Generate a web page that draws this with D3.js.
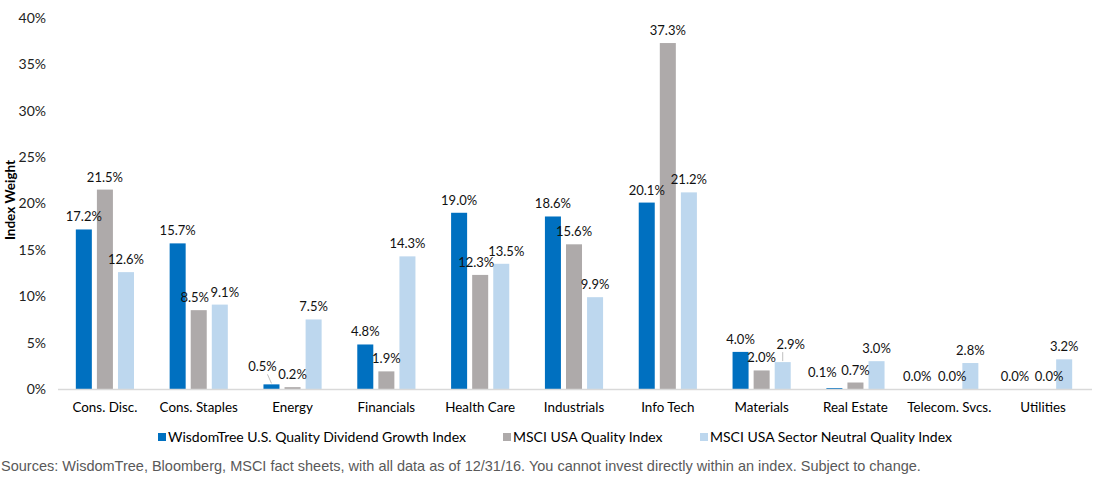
<!DOCTYPE html>
<html>
<head>
<meta charset="utf-8">
<script src="https://cdn.jsdelivr.net/npm/d3@7"></script>
<style>
  body { margin: 0; background: #fff; }
  svg { display: block; font-family: Lato, "Open Sans", sans-serif; }
</style>
</head>
<body>
<div id="chart"></div>
<script>
// sector weights (%)
const categories = ["Cons. Disc.", "Cons. Staples", "Energy", "Financials", "Health Care",
    "Industrials", "Info Tech", "Materials", "Real Estate", "Telecom. Svcs.", "Utilities"];
const wisdomTree = [17.2, 15.7, 0.5, 4.8, 19.0, 18.6, 20.1, 4.0, 0.1, 0.0, 0.0];
const msciQuality = [21.5, 8.5, 0.2, 1.9, 12.3, 15.6, 37.3, 2.0, 0.7, 0.0, 0.0];
const msciSectorNeutral = [12.6, 9.1, 7.5, 14.3, 13.5, 9.9, 21.2, 2.9, 3.0, 2.8, 3.2];
const seriesNames = ["WisdomTree U.S. Quality Dividend Growth Index", "MSCI USA Quality Index",
    "MSCI USA Sector Neutral Quality Index"];
const yTicks = [0, 5, 10, 15, 20, 25, 30, 35, 40];

const colors = ["#0070c0", "#aeaaaa", "#bdd7ee"];
const allSeries = [wisdomTree, msciQuality, msciSectorNeutral];

const width = 1104, height = 479;
const margin = { top: 18, right: 14, bottom: 90, left: 58 };
const innerW = width - margin.left - margin.right;
const innerH = height - margin.top - margin.bottom;

const svg = d3.select("#chart").append("svg")
    .attr("width", width)
    .attr("height", height);

const g = svg.append("g")
    .attr("transform", `translate(${margin.left},${margin.top})`);

const x = d3.scaleBand()
    .domain(categories)
    .range([0, innerW])
    .paddingInner(0.38)
    .paddingOuter(0.19);

const xs = d3.scaleBand()
    .domain([0, 1, 2])
    .range([0, x.bandwidth()])
    .paddingInner(0.24);

const y = d3.scaleLinear()
    .domain([0, 40])
    .range([innerH, 0]);

// y axis labels only (no line)
const yAxis = g.append("g")
    .call(d3.axisLeft(y).tickValues(yTicks).tickSize(0).tickPadding(12).tickFormat(d => d + "%"));
yAxis.select(".domain").remove();
yAxis.selectAll("text")
    .attr("font-family", "Lato, 'Open Sans', sans-serif")
    .attr("font-size", 14)
    .attr("fill", "#222");

// y axis title
g.append("text")
    .attr("transform", "rotate(-90)")
    .attr("x", -182)
    .attr("y", -43)
    .attr("text-anchor", "middle")
    .attr("font-weight", "bold")
    .attr("font-size", 13.5)
    .attr("fill", "#000")
    .text("Index Weight");

// bars
const groups = g.selectAll(".cat")
    .data(categories)
    .enter().append("g")
    .attr("class", "cat")
    .attr("transform", d => `translate(${x(d)},0)`);

allSeries.forEach((vals, si) => {
    groups.append("rect")
        .attr("x", xs(si))
        .attr("y", (d, i) => y(vals[i]))
        .attr("width", xs.bandwidth())
        .attr("height", (d, i) => innerH - y(vals[i]))
        .attr("fill", colors[si]);
});

// x axis baseline + labels
const xAxis = g.append("g")
    .attr("transform", `translate(0,${innerH})`)
    .call(d3.axisBottom(x).tickSize(0).tickPadding(13));
xAxis.select(".domain")
    .attr("d", `M0,0.5H${innerW + 2}`)
    .attr("stroke", "#d9d9d9")
    .attr("stroke-width", 1.5);
xAxis.selectAll("text")
    .attr("font-family", "Lato, 'Open Sans', sans-serif")
    .attr("font-size", 13.4)
    .attr("fill", "#000");

// data labels (a few nudged like the original to avoid overlap)
const nudges = {
    "1-1": [-4, 0, false], "1-2": [5, 0, false],
    "4-1": [-4, 0, false], "4-2": [5, 0, false],
    "2-0": [-9, -5, true],
    "7-2": [8, -5, true],
    "8-0": [-12, -3, false],
    "9-0": [-11, 0, false], "9-1": [3, 0, false],
    "10-0": [-7, 0, false], "10-1": [6, 0, false]
};
allSeries.forEach((vals, si) => {
    vals.forEach((v, i) => {
        const cx = x(categories[i]) + xs(si) + xs.bandwidth() / 2;
        const ty = y(v) - 8;
        const nd = nudges[i + "-" + si] || [0, 0, false];
        const lx = cx + nd[0], ly = ty + nd[1];
        if (nd[2]) {
            g.append("line")
                .attr("x1", lx + (nd[0] < 0 ? 5 : -8)).attr("y1", ly + 3)
                .attr("x2", cx).attr("y2", y(v) - 1)
                .attr("stroke", "#bfbfbf").attr("stroke-width", 1);
        }
        g.append("text")
            .attr("x", lx)
            .attr("y", ly)
            .attr("text-anchor", "middle")
            .attr("font-size", 13)
            .attr("fill", "#111")
            .text(v.toFixed(1) + "%");
    });
});

// legend
const legendX = [158, 503, 700];
const legend = svg.append("g").attr("transform", "translate(0,437)");
seriesNames.forEach((name, i) => {
    legend.append("rect")
        .attr("x", legendX[i]).attr("y", -4)
        .attr("width", 8).attr("height", 8)
        .attr("fill", colors[i]);
    legend.append("text")
        .attr("x", legendX[i] + 10).attr("y", 5)
        .attr("font-size", 14)
        .attr("fill", "#000")
        .text(name);
});

// source note
svg.append("text")
    .attr("x", 1)
    .attr("y", 471)
    .attr("font-family", "Arial, 'Liberation Sans', sans-serif")
    .attr("font-size", 14.5)
    .attr("fill", "#595959")
    .text("Sources: WisdomTree, Bloomberg, MSCI fact sheets, with all data as of 12/31/16. You cannot invest directly within an index. Subject to change.");
</script>
</body>
</html>
